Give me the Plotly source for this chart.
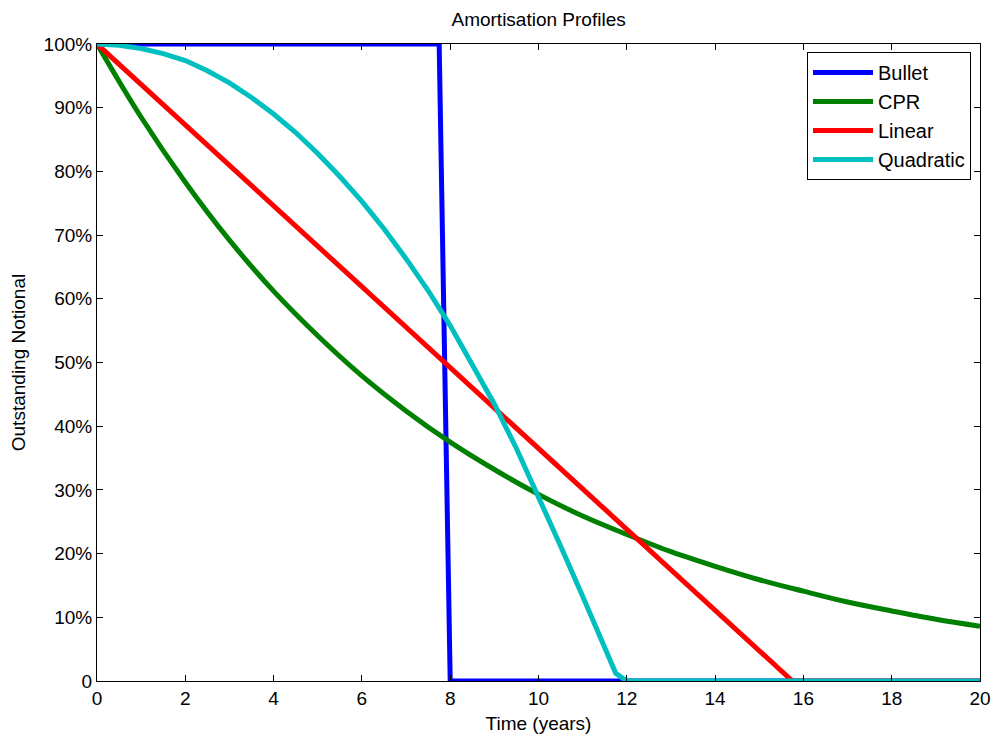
import plotly.graph_objects as go

# Time axis samples (years) and outstanding notional fractions
bullet_t = [0, 7.75, 8, 20]
bullet_v = [1.0, 1.0, 0.0, 0.0]

cpr_t = list(range(0, 21))
cpr_v = [1.000, 0.885, 0.783, 0.692, 0.612, 0.542, 0.479, 0.424, 0.375, 0.332,
         0.293, 0.259, 0.230, 0.203, 0.180, 0.159, 0.141, 0.124, 0.110, 0.097, 0.086]

linear_t = [0, 4, 8, 12, 15.75, 20]
linear_v = [1.0, 0.746, 0.492, 0.238, 0.0, 0.0]

quad_t = [0, 0.5, 1, 1.5, 2, 2.5, 3, 3.5, 4, 4.5, 5, 5.5, 6, 6.5, 7, 7.5, 8, 8.5,
          9, 9.5, 10, 10.5, 11, 11.5, 11.75, 12, 20]
quad_v = [1.000, 0.998, 0.993, 0.985, 0.974, 0.958, 0.939, 0.916, 0.890, 0.861,
          0.828, 0.792, 0.753, 0.710, 0.663, 0.613, 0.558, 0.498, 0.435, 0.365,
          0.290, 0.212, 0.133, 0.053, 0.012, 0.0, 0.0]

x_ticks = list(range(0, 21, 2))
y_ticks = [i / 10 for i in range(11)]
y_tick_text = ["0"] + [f"{i*10}%" for i in range(1, 11)]

names = ["Bullet", "CPR", "Linear", "Quadratic"]
colors = ["#0000FF", "#008000", "#FF0000", "#00BFBF"]

FONT = "Liberation Sans, Arial, sans-serif"

fig = go.Figure()
fig.add_trace(go.Scatter(x=bullet_t, y=bullet_v, mode="lines", name=names[0],
                         line=dict(color=colors[0], width=5)))
fig.add_trace(go.Scatter(x=cpr_t, y=cpr_v, mode="lines", name=names[1],
                         line=dict(color=colors[1], width=5, shape="spline")))
fig.add_trace(go.Scatter(x=linear_t, y=linear_v, mode="lines", name=names[2],
                         line=dict(color=colors[2], width=5)))
fig.add_trace(go.Scatter(x=quad_t, y=quad_v, mode="lines", name=names[3],
                         line=dict(color=colors[3], width=5)))

axis_common = dict(
    showgrid=False, zeroline=False, showline=True, linecolor="black", linewidth=1,
    mirror="ticks", ticks="inside", ticklen=6, tickcolor="black", tickwidth=1,
    tickfont=dict(family=FONT, size=19, color="black"), automargin=False,
)

fig.update_layout(
    width=995, height=736,
    margin=dict(l=97, r=15, t=44, b=55),
    paper_bgcolor="white", plot_bgcolor="white",
    font=dict(family=FONT, size=19, color="black"),
    title=dict(text="Amortisation Profiles", x=0.5413, xanchor="center",
               y=1 - 19 / 736, yanchor="middle", yref="container",
               font=dict(family=FONT, size=19, color="black")),
    xaxis=dict(range=[0, 20], tickvals=x_ticks,
               title=dict(text="Time (years)", standoff=8,
                          font=dict(family=FONT, size=19)),
               **axis_common),
    yaxis=dict(range=[0, 1], tickvals=y_ticks, ticktext=y_tick_text,
               title=dict(text="Outstanding Notional", standoff=12,
                          font=dict(family=FONT, size=19)),
               **axis_common),
    legend=dict(x=(971 - 97) / 883, xanchor="right", y=(681 - 52) / 637, yanchor="top",
                bordercolor="black", borderwidth=1, bgcolor="white",
                font=dict(family=FONT, size=20), tracegroupgap=0,
                itemwidth=60),
    showlegend=True,
)

fig.write_html("out.html")
